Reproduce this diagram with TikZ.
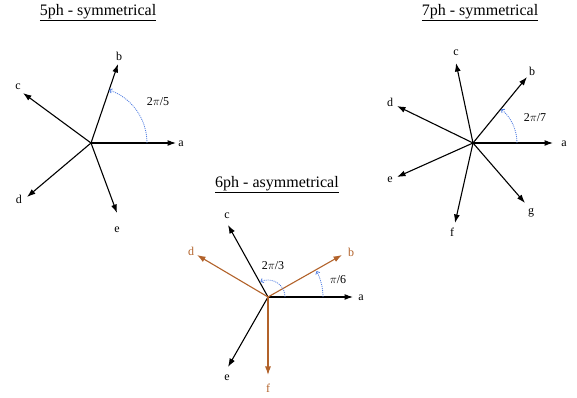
\documentclass[tikz,border=0pt]{standalone}
\usepackage{fontspec}
\setmainfont{Liberation Serif}
\usetikzlibrary{arrows.meta,calc}
\definecolor{phbrown}{RGB}{178,98,42}
\definecolor{arcblue}{RGB}{80,125,225}
\tikzset{
  phasor/.style={line width=1.1pt,-{Latex[length=8.5pt,width=6pt]}},
  brownph/.style={phasor,draw=phbrown},
  anglearc/.style={draw=arcblue,dash pattern=on 1pt off 1pt,line width=0.8pt,-{To[length=3pt,width=5pt]}},
  lbl/.style={font=\fontsize{12}{14}\selectfont,inner sep=0pt},
  brownlbl/.style={lbl,text=phbrown},
  title/.style={font=\fontsize{16}{18}\selectfont,inner sep=0pt}
}
\begin{document}
\begin{tikzpicture}[x=1pt,y=1pt]
\useasboundingbox (0,0) rectangle (577,398);
% ---------- 5ph ----------
\node[title] (t5) at (98,385) {\underline{5ph - symmetrical}};
\coordinate (O5) at (91,255);
\coordinate (a5) at (176,255);
\coordinate (b5) at (118,334);
\coordinate (c5) at (23,305);
\coordinate (d5) at (27,201);
\coordinate (e5) at (117,185);
\foreach \p in {a5,b5,c5,d5,e5} \draw[phasor] (O5) -- (\p);
\node[lbl] (la5) at (181,254) {a};
\node[lbl] (lb5) at (119,342) {b};
\node[lbl] (lc5) at (18,311) {c};
\node[lbl] (ld5) at (19,199) {d};
\node[lbl] (le5) at (117,168) {e};
\draw[anglearc] ([shift={(56,0)}]O5) arc[start angle=0,end angle=71,radius=56];
\node[lbl] (g5) at (158,296) {2$\pi$/5};
% ---------- 7ph ----------
\node[title] (t7) at (480,385) {\underline{7ph - symmetrical}};
\coordinate (O7) at (473,255);
\coordinate (a7) at (553,255);
\coordinate (b7) at (527,321);
\coordinate (c7) at (456,335);
\coordinate (d7) at (397,292);
\coordinate (e7) at (397,221);
\coordinate (f7) at (455,175);
\coordinate (g7) at (525,195);
\foreach \p in {a7,b7,c7,d7,e7,f7,g7} \draw[phasor] (O7) -- (\p);
\node[lbl] (la7) at (564,254) {a};
\node[lbl] (lb7) at (532,327) {b};
\node[lbl] (lc7) at (456,345) {c};
\node[lbl] (ld7) at (390,296) {d};
\node[lbl] (le7) at (390,218) {e};
\node[lbl] (lf7) at (452,166) {f};
\node[lbl] (lg7) at (531,185) {g};
\draw[anglearc] ([shift={(44,0)}]O7) arc[start angle=0,end angle=50,radius=44];
\node[lbl] (g7l) at (535,280) {2$\pi$/7};
% ---------- 6ph ----------
\node[title] (t6) at (277,213) {\underline{6ph - asymmetrical}};
\coordinate (O6) at (268,101);
\coordinate (a6) at (353,101);
\coordinate (b6) at (342,143);
\coordinate (c6) at (228,173);
\coordinate (d6) at (197,143);
\coordinate (e6) at (228,31);
\coordinate (f6) at (268,23);
\draw[phasor] (O6) -- (a6);
\draw[phasor] (O6) -- (c6);
\draw[phasor] (O6) -- (e6);
\draw[brownph] (O6) -- (b6);
\draw[brownph] (O6) -- (d6);
\draw[brownph] (O6) -- (f6);
\node[lbl] (la6) at (361,100) {a};
\node[brownlbl] (lb6) at (351,146) {b};
\node[lbl] (lc6) at (227,182) {c};
\node[brownlbl] (ld6) at (191,147) {d};
\node[lbl] (le6) at (227,20) {e};
\node[brownlbl] (lf6) at (268,10) {f};
\draw[anglearc] ([shift={(55,0)}]O6) arc[start angle=0,end angle=28,radius=55];
\draw[anglearc] ([shift={(17,0)}]O6) arc[start angle=0,end angle=116,radius=17];
\node[lbl] (p6) at (338,118) {$\pi$/6};
\node[lbl] (p23) at (273,132) {2$\pi$/3};
\end{tikzpicture}
\end{document}
